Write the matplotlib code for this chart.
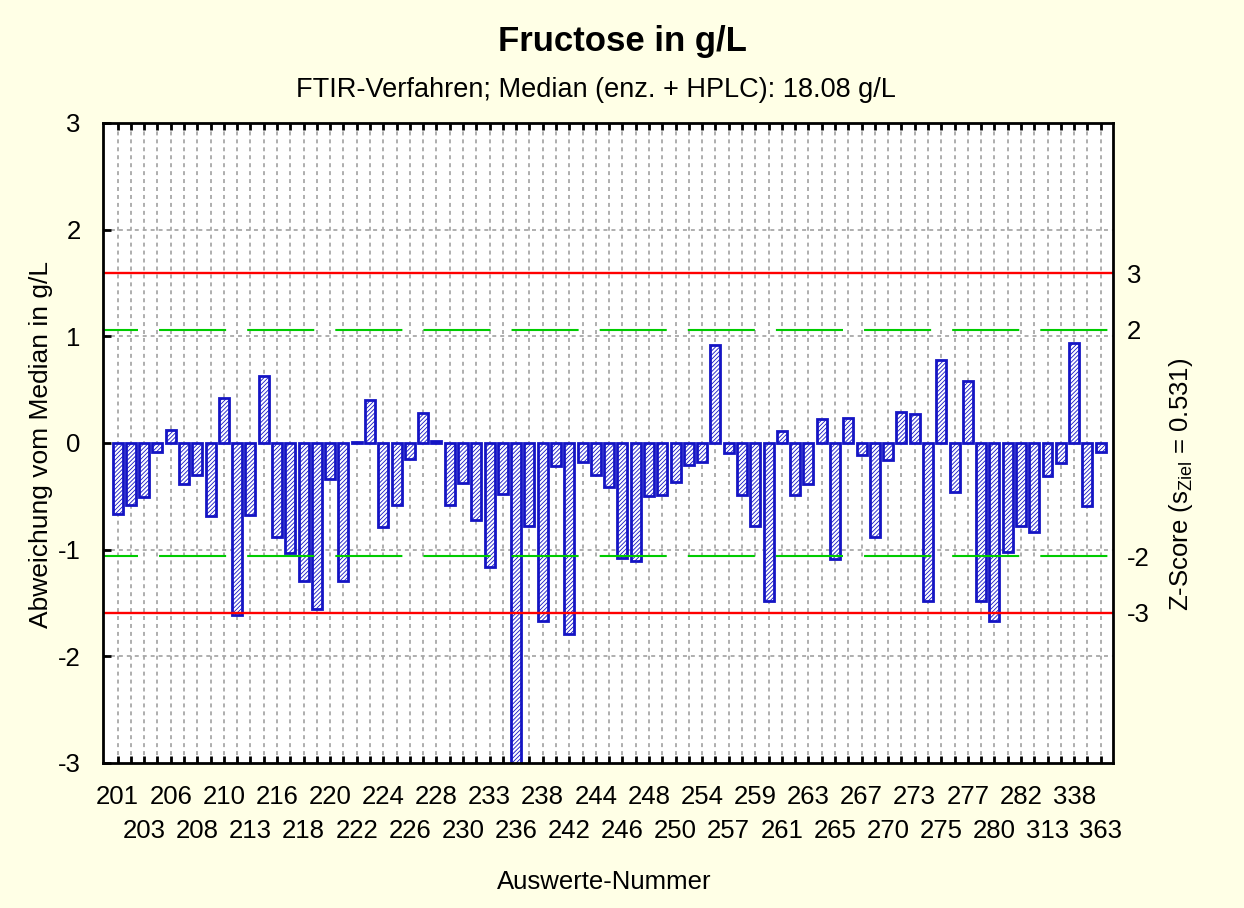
import numpy as np
import matplotlib.pyplot as plt

plt.rcParams['font.family'] = ['Liberation Sans', 'DejaVu Sans']
plt.rcParams['mathtext.fontset'] = 'custom'
plt.rcParams['mathtext.rm'] = 'Liberation Sans'
plt.rcParams['hatch.linewidth'] = 0.6

# Abweichung vom Median (g/L), one value per Auswertung, left to right
values = [
    -0.67, -0.58, -0.51, -0.08, 0.125, -0.38, -0.30, -0.685, 0.42, -1.615,
    -0.675, 0.628, -0.88, -1.035, -1.29, -1.56, -0.335, -1.29, 0.005, 0.405,
    -0.79, -0.585, -0.148, 0.278, 0.02, -0.58, -0.375, -0.725, -1.165, -0.475,
    -3.2, -0.78, -1.67, -0.22, -1.79, -0.18, -0.30, -0.41, -1.08, -1.11,
    -0.50, -0.49, -0.37, -0.205, -0.18, 0.92, -0.095, -0.49, -0.78, -1.48,
    0.115, -0.49, -0.385, 0.225, -1.085, 0.235, -0.115, -0.88, -0.155, 0.295,
    0.27, -1.485, 0.78, -0.455, 0.585, -1.485, -1.67, -1.025, -0.78, -0.83,
    -0.305, -0.185, 0.935, -0.59, -0.085,
]

# only every second bar carries a label (alternating in two rows)
tick_labels = [
    "201", "203", "206", "208", "210", "213", "216", "218", "220", "222",
    "224", "226", "228", "230", "233", "236", "238", "242", "244", "246",
    "248", "250", "254", "257", "259", "261", "263", "265", "267", "270",
    "273", "275", "277", "280", "282", "313", "338", "363",
]

s_ziel = 0.531
z_lines = [2, 3]
z_labels = [-3, -2, 2, 3]

bg = '#FFFFE6'
blue = '#1414C4'

fig = plt.figure(figsize=(12.44, 9.08), dpi=100, facecolor=bg)
ax = fig.add_axes([103 / 1244, 1 - 763 / 908, (1113 - 103) / 1244, (763 - 123) / 908])
ax.set_facecolor('white')

x = np.arange(len(values))
ax.bar(x, values, width=0.75, color='white', edgecolor=blue, linewidth=2.0,
       hatch='////////', zorder=3)

# grid
for xi in x:
    ax.axvline(xi, color='#A8A8A8', lw=1.3, ls=(0, (2.2, 2.2)), zorder=1)
for yi in [-2, -1, 1, 2]:
    ax.axhline(yi, color='#A8A8A8', lw=1.3, ls=(0, (2.2, 2.2)), zorder=1)

# z-score limits
for z in z_lines:
    for sign in (1, -1):
        yv = sign * z * s_ziel
        if z == 3:
            ax.axhline(yv, color='#FF0000', lw=1.7, zorder=4)
        else:
            ax.axhline(yv, color='#00CC00', lw=1.5, ls=(15.4, (32.2, 10.1)), zorder=4)

ax.set_xlim(-1.1, len(values) - 0.07)
ax.set_ylim(-3, 3)

ax.set_yticks([-3, -2, -1, 0, 1, 2, 3])
ax.set_yticklabels(['-3', '-2', '-1', '0', '1', '2', '3'])
ax.tick_params(axis='y', direction='in', length=6, width=2, right=True,
               labelsize=18.5, pad=16)

pos = x[::2]
row1_pos, row1_lbl = pos[::2], tick_labels[::2]
row2_pos, row2_lbl = pos[1::2], tick_labels[1::2]

ax.set_xticks(row1_pos)
ax.set_xticklabels(row1_lbl)
ax.set_xticks(x, minor=True)
ax.tick_params(axis='x', which='both', direction='in', length=5, width=2,
               top=True, labelsize=18.5, pad=16)

sec = ax.secondary_xaxis('bottom')
sec.set_xticks(row2_pos)
sec.set_xticklabels(row2_lbl)
sec.tick_params(axis='x', length=0, labelsize=18.5, pad=40)
sec.spines['bottom'].set_visible(False)

for sp in ax.spines.values():
    sp.set_linewidth(2)
    sp.set_zorder(5)

ax2 = ax.twinx()
ax2.set_ylim(-3 / s_ziel, 3 / s_ziel)
ax2.set_yticks(z_labels)
ax2.set_yticklabels([str(z) for z in z_labels])
ax2.tick_params(axis='y', length=0, labelsize=18.5, pad=10)
for sp in ax2.spines.values():
    sp.set_visible(False)

fig.text(622 / 1244, 1 - 42 / 908, 'Fructose in g/L', ha='center', va='center',
         fontsize=25, fontweight='bold')
fig.text(596 / 1244, 1 - 90 / 908, 'FTIR-Verfahren; Median (enz. + HPLC): 18.08 g/L',
         ha='center', va='center', fontsize=19.5)
fig.text(41 / 1244, 1 - 444 / 908, 'Abweichung vom Median in g/L', rotation=90,
         ha='center', va='center', fontsize=19)
fig.text(1181 / 1244, 1 - 484 / 908, r'Z-Score (s$_{\mathrm{Ziel}}$ = 0.531)', rotation=90,
         ha='center', va='center', fontsize=18.5)
fig.text(604 / 1244, 1 - 882 / 908, 'Auswerte-Nummer', ha='center', va='center',
         fontsize=18.5)

fig.savefig('out.png', dpi=100, facecolor=bg)
